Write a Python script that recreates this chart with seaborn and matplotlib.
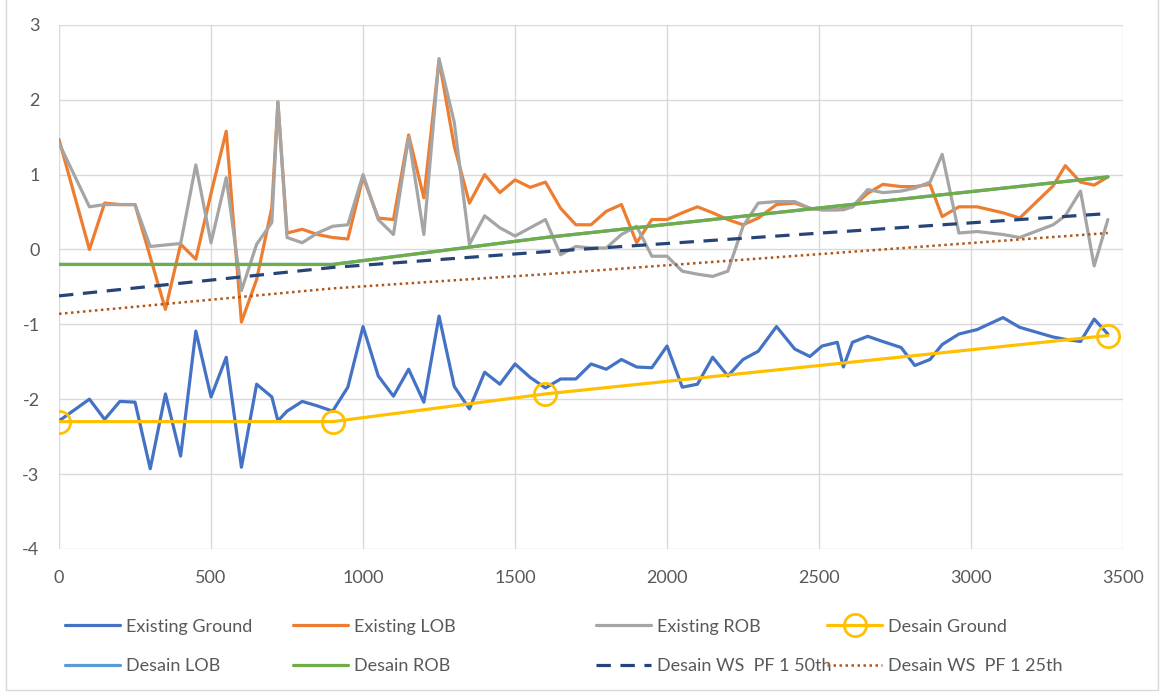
import numpy as np
import matplotlib.pyplot as plt
import seaborn as sns
from matplotlib.patches import Rectangle

sns.set_style("whitegrid")
plt.rcParams['font.family'] = ['Lato', 'DejaVu Sans']
plt.rcParams['axes.unicode_minus'] = False

# stations along the channel
station = [0, 100, 150, 200, 250, 300, 350, 400, 450, 500,
           550, 600, 650, 700, 720, 750, 800, 850, 900, 950,
           1000, 1050, 1100, 1150, 1200, 1250, 1300, 1350, 1400, 1450,
           1500, 1550, 1600, 1650, 1700, 1750, 1800, 1850, 1900, 1950,
           2000, 2050, 2100, 2150, 2200, 2250, 2300, 2360, 2420, 2470,
           2510, 2560, 2580, 2610, 2660, 2710, 2770, 2815, 2865, 2905,
           2960, 3020, 3105, 3160, 3270, 3310, 3360, 3405, 3450]

exist_ground = [-2.29, -2.00, -2.27, -2.03, -2.04, -2.93, -1.93, -2.76, -1.09, -1.97,
                -1.44, -2.91, -1.80, -1.97, -2.29, -2.16, -2.03, -2.09, -2.16, -1.84,
                -1.03, -1.69, -1.96, -1.60, -2.04, -0.89, -1.83, -2.13, -1.64, -1.80,
                -1.53, -1.71, -1.85, -1.73, -1.73, -1.53, -1.60, -1.47, -1.57, -1.58,
                -1.29, -1.84, -1.80, -1.44, -1.69, -1.47, -1.36, -1.03, -1.33, -1.43,
                -1.29, -1.24, -1.57, -1.24, -1.16, -1.23, -1.31, -1.55, -1.47, -1.27,
                -1.13, -1.07, -0.91, -1.04, -1.17, -1.20, -1.23, -0.93, -1.13]

exist_lob = [1.47, 0.00, 0.62, 0.60, 0.60, -0.10, -0.80, 0.07, -0.13, 0.75,
             1.58, -0.97, -0.40, 0.56, 1.97, 0.22, 0.27, 0.20, 0.16, 0.14,
             0.97, 0.42, 0.40, 1.53, 0.69, 2.53, 1.38, 0.62, 1.00, 0.76,
             0.93, 0.83, 0.90, 0.55, 0.33, 0.33, 0.51, 0.60, 0.09, 0.40,
             0.40, 0.49, 0.57, 0.49, 0.40, 0.33, 0.42, 0.60, 0.62, 0.55,
             0.53, 0.53, 0.55, 0.57, 0.75, 0.87, 0.84, 0.84, 0.87, 0.44,
             0.57, 0.57, 0.49, 0.42, 0.85, 1.12, 0.90, 0.86, 0.97]

exist_rob = [1.42, 0.57, 0.60, 0.60, 0.60, 0.04, 0.06, 0.08, 1.13, 0.09,
             0.96, -0.55, 0.07, 0.36, 1.97, 0.16, 0.09, 0.22, 0.31, 0.33,
             1.00, 0.40, 0.20, 1.50, 0.20, 2.55, 1.70, 0.07, 0.45, 0.29,
             0.18, 0.29, 0.40, -0.07, 0.04, 0.02, 0.02, 0.20, 0.31, -0.09,
             -0.09, -0.29, -0.33, -0.36, -0.29, 0.31, 0.62, 0.64, 0.64, 0.55,
             0.53, 0.53, 0.53, 0.57, 0.80, 0.76, 0.78, 0.82, 0.90, 1.27,
             0.22, 0.24, 0.20, 0.16, 0.33, 0.45, 0.78, -0.22, 0.40]

# design profile break points
design_sta = [0, 900, 1600, 3450]
design_ground = [-2.30, -2.30, -1.93, -1.15]
design_lob = [-0.20, -0.20, 0.16, 0.97]
design_rob = [-0.20, -0.20, 0.16, 0.97]
ws_50th = [-0.62, -0.24, -0.03, 0.48]
ws_25th = [-0.86, -0.52, -0.33, 0.22]

labels = ['Existing Ground', 'Existing LOB', 'Existing ROB', 'Desain Ground',
          'Desain LOB', 'Desain ROB', 'Desain WS  PF 1 50th', 'Desain WS  PF 1 25th']

fig, ax = plt.subplots(figsize=(11.69, 6.93), dpi=100)
fig.subplots_adjust(left=0.0505, right=0.9607, top=0.964, bottom=0.208)

lw = 2.3
sns.lineplot(x=station, y=exist_ground, ax=ax, color='#4472C4', lw=lw, sort=False, label=labels[0])
sns.lineplot(x=station, y=exist_lob, ax=ax, color='#ED7D31', lw=lw, sort=False, label=labels[1])
sns.lineplot(x=station, y=exist_rob, ax=ax, color='#A5A5A5', lw=lw, sort=False, label=labels[2])
sns.lineplot(x=design_sta, y=design_ground, ax=ax, color='#FFC000', lw=lw, sort=False,
             marker='o', markersize=16, markerfacecolor='none', markeredgecolor='#FFC000',
             markeredgewidth=2, label=labels[3])
sns.lineplot(x=design_sta, y=design_lob, ax=ax, color='#5B9BD5', lw=lw, sort=False, label=labels[4])
sns.lineplot(x=design_sta, y=design_rob, ax=ax, color='#70AD47', lw=lw, sort=False, label=labels[5])
sns.lineplot(x=design_sta, y=ws_50th, ax=ax, color='#264478', lw=lw, sort=False,
             linestyle=(0, (4.5, 3)), label=labels[6])
sns.lineplot(x=design_sta, y=ws_25th, ax=ax, color='#B0561A', lw=1.8, sort=False,
             linestyle=(0, (1, 1.4)), label=labels[7])

ax.set_xlim(0, 3500)
ax.set_ylim(-4, 3)
ax.set_xticks(np.arange(0, 3501, 500))
ax.set_yticks(np.arange(-4, 4, 1))
ax.grid(True, color='#D9D9D9', lw=1)
for s in ax.spines.values():
    s.set_visible(False)
ax.tick_params(axis='both', labelsize=13, colors='#595959', length=0)
ax.tick_params(axis='x', pad=15)
ax.tick_params(axis='y', pad=14)

handles, labs = ax.get_legend_handles_labels()
ax.get_legend().remove()

# legend laid out like the Excel one: 4 columns, 2 rows
col_x = [65, 293, 596, 827]
cols = [(0, 4), (1, 5), (2, 6), (3, 7)]
for cx, (a, b) in zip(col_x, cols):
    leg = fig.legend([handles[a], handles[b]], [labs[a], labs[b]],
                     loc='center left', bbox_to_anchor=(cx / 1169, 1 - 646.5 / 693),
                     frameon=False, fontsize=13, handlelength=3.05, handletextpad=0.35,
                     labelspacing=1.3, borderpad=0, borderaxespad=0, labelcolor='#595959')

fig.patches.append(Rectangle((6 / 1169, 1 - 690 / 693), (1158 - 6) / 1169, 1.0,
                             transform=fig.transFigure, fill=False,
                             edgecolor='#D9D9D9', lw=1))

fig.savefig('out.png', dpi=100)
